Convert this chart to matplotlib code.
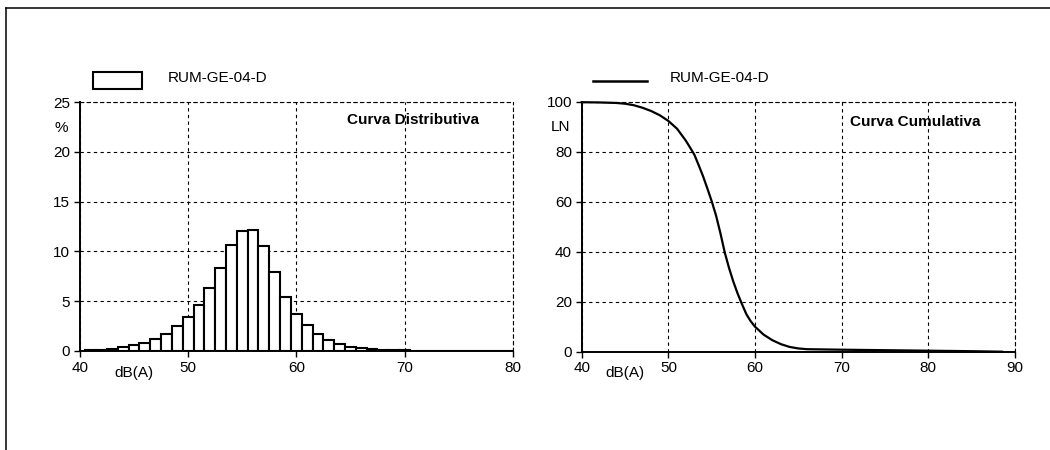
import matplotlib
matplotlib.use("Agg")
import matplotlib.pyplot as plt
from matplotlib.patches import Rectangle
from matplotlib.lines import Line2D

plt.rcParams['font.family'] = ['Liberation Sans', 'DejaVu Sans']

# ---- data ----
series_name = "RUM-GE-04-D"
hist_levels = [41, 42, 43, 44, 45, 46, 47, 48, 49, 50, 51, 52, 53, 54, 55, 56, 57, 58, 59, 60,
               61, 62, 63, 64, 65, 66, 67, 68, 69, 70, 71, 72, 73, 74, 75, 76, 77, 78, 79, 80]
hist_pct = [0.10, 0.13, 0.23, 0.37, 0.57, 0.85, 1.22, 1.75, 2.47, 3.37, 4.60, 6.37, 8.37, 10.63,
            12.07, 12.13, 10.57, 7.93, 5.47, 3.73, 2.60, 1.74, 1.15, 0.72, 0.40, 0.27, 0.20, 0.13,
            0.10, 0.07, 0.05, 0.05, 0.04, 0.03, 0.03, 0.02, 0.02, 0.02, 0.01, 0.01]
cum_levels = [40, 42, 44, 45, 46, 47, 48, 49, 50, 51, 52, 52.5, 53, 53.5, 54, 54.5, 55, 55.5,
              56, 56.5, 57, 57.5, 58, 58.5, 59, 59.5, 60, 61, 62, 63, 64, 65, 66, 70, 75, 80,
              85, 88.5]
cum_ln = [99.8, 99.7, 99.5, 99.2, 98.6, 97.6, 96.3, 94.6, 92.3, 89.2, 84.5, 81.7, 78.8, 74.6,
          70.2, 65.3, 60.2, 54.5, 47.5, 39.8, 33.5, 28.0, 23.2, 19.0, 15.0, 12.2, 10.0, 6.8,
          4.6, 3.0, 1.9, 1.3, 1.0, 0.8, 0.6, 0.4, 0.2, 0.0]
hist_xticks = [40, 50, 60, 70, 80]
hist_yticks = [0, 5, 10, 15, 20, 25]
cum_xticks = [40, 50, 60, 70, 80, 90]
cum_yticks = [0, 20, 40, 60, 80, 100]

W, H = 1050, 450
fig = plt.figure(figsize=(W / 100, H / 100), dpi=100)

# outer frame (top and left edges visible)
fig.add_artist(Line2D([5.5 / W, 1.0], [1 - 7.5 / H, 1 - 7.5 / H], color='black', lw=1.1,
                      transform=fig.transFigure))
fig.add_artist(Line2D([5.5 / W, 5.5 / W], [1 - 7.5 / H, 0], color='black', lw=1.1,
                      transform=fig.transFigure))

ax1 = fig.add_axes([80 / W, (H - 351) / H, 432.7 / W, 249 / H])
ax2 = fig.add_axes([581.7 / W, (H - 351.7) / H, 433.3 / W, 250 / H])

dash = (0, (3, 3))
grid_kw = dict(color='black', linestyle=dash, linewidth=0.8)
TS = 11


def style(ax):
    for s in ('top', 'right'):
        ax.spines[s].set_linestyle(dash)
        ax.spines[s].set_linewidth(0.8)
    ax.spines['left'].set_linewidth(1.4)
    ax.spines['bottom'].set_linewidth(1.4)
    ax.grid(True, **grid_kw)
    ax.set_axisbelow(True)
    ax.tick_params(axis='both', direction='out', length=4, width=1, labelsize=TS,
                   pad=3, colors='black')


# histogram
ax1.bar(hist_levels, hist_pct, width=1.0, color='white', edgecolor='black', linewidth=1.5,
        zorder=3)
ax1.set_xlim(40, 80)
ax1.set_ylim(0, 25)
ax1.set_xticks(hist_xticks)
ax1.set_yticks(hist_yticks)
style(ax1)
ax1.text(0.77, 0.928, "Curva Distributiva", transform=ax1.transAxes, ha='center', va='center',
         fontsize=11, fontweight='bold')
ax1.text(-0.044, 0.896, "%", transform=ax1.transAxes, ha='center', va='center', fontsize=TS)
ax1.text(0.125, -0.088, "dB(A)", transform=ax1.transAxes, ha='center', va='center',
         fontsize=TS)

# cumulative
ax2.plot(cum_levels, cum_ln, color='black', linewidth=1.6, zorder=3, clip_on=False,
         solid_joinstyle='round')
ax2.set_xlim(40, 90)
ax2.set_ylim(0, 100)
ax2.set_xticks(cum_xticks)
ax2.set_yticks(cum_yticks)
style(ax2)
ax2.text(0.77, 0.92, "Curva Cumulativa", transform=ax2.transAxes, ha='center', va='center',
         fontsize=11, fontweight='bold')
ax2.text(-0.048, 0.9, "LN", transform=ax2.transAxes, ha='center', va='center', fontsize=TS)
ax2.text(0.1, -0.085, "dB(A)", transform=ax2.transAxes, ha='center', va='center',
         fontsize=TS)

# legends drawn in figure pixels
fig.add_artist(Rectangle((93.3 / W, 1 - 89.3 / H), 49 / W, 17 / H, facecolor='white',
                         edgecolor='black', linewidth=1.5, transform=fig.transFigure))
fig.text(167.7 / W, 1 - 78.3 / H, series_name, ha='left', va='center', fontsize=TS)
fig.add_artist(Line2D([593 / W, 647.3 / W], [1 - 80.7 / H, 1 - 80.7 / H], color='black',
                      lw=1.8, transform=fig.transFigure))
fig.text(670 / W, 1 - 78.3 / H, series_name, ha='left', va='center', fontsize=TS)

fig.savefig("out.png", dpi=100)
